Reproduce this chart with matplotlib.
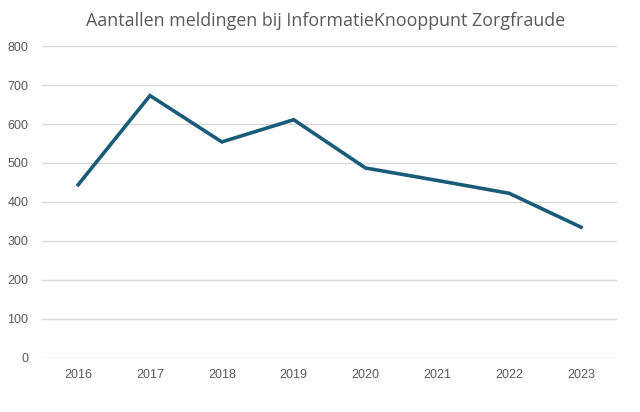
import matplotlib
matplotlib.use("Agg")
import matplotlib.pyplot as plt

years = ["2016", "2017", "2018", "2019", "2020", "2021", "2022", "2023"]
meldingen = [444, 673, 554, 611, 487, 455, 422, 335]
y_ticks = [0, 100, 200, 300, 400, 500, 600, 700, 800]

fig = plt.figure(figsize=(6.4, 4.12), dpi=100)
ax = fig.add_axes([0.066, 0.132, 0.898, 0.756])

x = list(range(len(years)))
ax.plot(x, meldingen, color="#1b5b7a", linewidth=2.6, solid_joinstyle="miter", zorder=3)

ax.set_xlim(-0.5, len(years) - 0.5)
ax.set_ylim(0, 800)
ax.set_yticks(y_ticks)
ax.set_xticks(x)
ax.set_xticklabels(years)
ax.grid(axis="y", color="#d9d9d9", linewidth=1.0)
ax.set_axisbelow(True)
for s in ax.spines.values():
    s.set_visible(False)
ax.tick_params(length=0, labelsize=9, labelcolor="#595959", pad=8)
ax.tick_params(axis="y", pad=10)
for lab in ax.get_xticklabels() + ax.get_yticklabels():
    lab.set_family("Liberation Sans")

fig.text(0.508, 0.948, "Aantallen meldingen bij InformatieKnooppunt Zorgfraude",
         ha="center", va="center", fontsize=12.9, color="#595959", family="Open Sans")

fig.savefig("out.png", dpi=100)
